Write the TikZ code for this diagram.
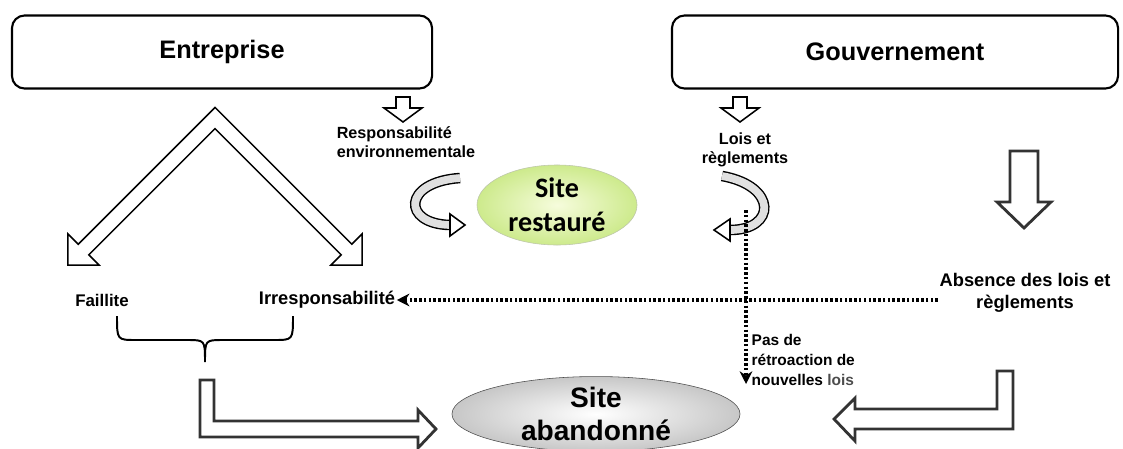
\documentclass[tikz,border=0pt]{standalone}
\usepackage{fontspec}
\setmainfont{Liberation Sans}
\newfontfamily\calfont{Carlito}
\usetikzlibrary{shapes.geometric,arrows.meta}
\definecolor{leaf}{RGB}{205,234,140}
\definecolor{leaflight}{RGB}{246,252,220}

\begin{document}
\begin{tikzpicture}[x=0.025cm,y=-0.025cm,
    box/.style={draw,rounded corners=9pt,line width=1.5pt,minimum height=1.825cm,
                font=\bfseries\fontsize{18}{20}\selectfont},
    lbl/.style={font=\bfseries\fontsize{11.5}{13.5}\selectfont,inner sep=1pt},
    hollow/.style={draw,fill=white,line width=1.1pt,line join=miter},
    fat/.style={draw=black!80,fill=white,line width=2pt,line join=miter},
    ribbon/.style={line width=1pt,double=black!12,double distance=5.5pt},
    dots/.style={line width=2.2pt,dash pattern=on 1.8pt off 1.6pt,
                 -{Stealth[length=9pt,width=9pt]}},
    site/.style={ellipse,inner sep=0pt,align=center}]
  \useasboundingbox (0,0) rectangle (1123,448);

  \node[box,minimum width=10.5cm] (ent) at (222,52) {Entreprise};
  \node[box,minimum width=11.15cm] (gouv) at (895,52) {Gouvernement};

  \draw[hollow] (396,97) -- (410,97) -- (410,108) -- (422,108) -- (403,122)
    -- (384,108) -- (396,108) -- cycle;
  \draw[hollow] (733,97) -- (747,97) -- (747,108) -- (759,108) -- (740,122)
    -- (721,108) -- (733,108) -- cycle;

  \node[lbl,align=left] (resp) at (406,142) {Responsabilité\\environnementale};
  \node[lbl,align=center] (lois) at (745,150) {Lois et\\règlements};

  \draw[hollow] (215,107.4) -- (351.8,244.2) -- (362.1,233.9) -- (362.1,265.1)
    -- (330.9,265.1) -- (341.2,254.8) -- (215,128.6) -- (88.8,254.8)
    -- (99.1,265.1) -- (67.9,265.1) -- (67.9,233.9) -- (78.2,244.2) -- cycle;

  \node[site,draw=leaf!60!black!50,shade,inner color=leaflight,outer color=leaf,
        minimum width=4cm,minimum height=2cm,
        font=\calfont\bfseries\fontsize{20}{24}\selectfont] (rest) at (557,205)
        {Site\\restauré};

  \draw[ribbon] (460,178) .. controls (402,182) and (402,224) .. (450,225);
  \draw[hollow] (450,214) -- (465,225) -- (450,236) -- cycle;
  \draw[ribbon] (722,176) .. controls (778,186) and (776,230) .. (730,230);
  \draw[hollow] (730,219) -- (714,230) -- (730,241) -- cycle;

  \draw[fat] (1010,151) -- (1038,151) -- (1038,202) -- (1051,202) -- (1024,228)
    -- (997,202) -- (1010,202) -- cycle;

  \node[lbl,font=\bfseries\fontsize{12}{14}\selectfont] (fail) at (102,300) {Faillite};
  \node[lbl,font=\bfseries\fontsize{13}{15}\selectfont] (irr) at (327,300) {Irresponsabilité};
  \node[lbl,align=center,font=\bfseries\fontsize{13}{15.5}\selectfont] (abs) at (1025,293)
    {Absence des lois et\\règlements};
  \node[lbl,align=left,anchor=west,font=\bfseries\fontsize{11}{14}\selectfont] (pas)
    at (750,360) {Pas de\\rétroaction de\\nouvelles \textcolor{black!70}{lois}};

  \draw[line width=1.4pt] (117,316) .. controls (117,340) .. (136,340) -- (187,340)
    .. controls (205,340) .. (205,362) .. controls (205,340) .. (223,340)
    -- (274,340) .. controls (293,340) .. (293,316);

  \node[site,draw=black!70,shade,inner color=white,outer color=black!22,
        minimum width=7.2cm,minimum height=1.8cm,
        font=\bfseries\fontsize{20}{23}\selectfont] (aban) at (596,414)
        {Site\\abandonné};

  \draw[fat] (200,380) -- (214,380) -- (214,421) -- (418,421) -- (418,410)
    -- (436,429) -- (418,448) -- (418,437) -- (200,437) -- cycle;
  \draw[fat] (997,371) -- (1013,371) -- (1013,429) -- (855,429) -- (855,441)
    -- (834,419) -- (855,398) -- (855,409) -- (997,409) -- cycle;

  \coordinate (twist) at (746,210);
  \coordinate (fb) at (746,384);
  \draw[dots] (abs.west |- irr.east) -- (irr.east);
  \draw[dots] (twist) -- (fb);
\end{tikzpicture}
\end{document}
